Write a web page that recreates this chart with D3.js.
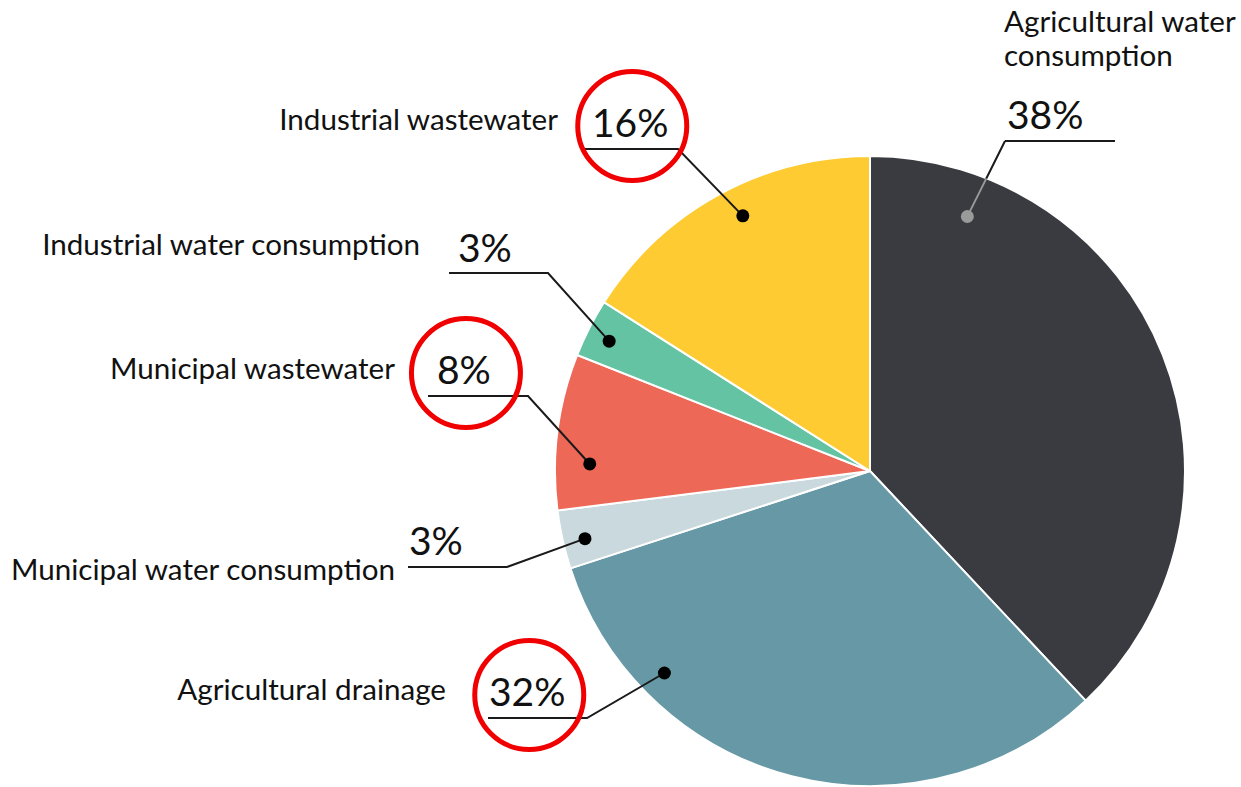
<!DOCTYPE html>
<html>
<head>
<meta charset="utf-8">
<script src="https://cdn.jsdelivr.net/npm/d3@7"></script>
<style>
    body { margin: 0; background: #fff; }
    text { font-family: Lato, "Noto Sans", sans-serif; fill: #111; }
</style>
</head>
<body>
<svg id="chart" width="1241" height="787"></svg>
<script>
// Data, clockwise from 12 o'clock
const categories = [
    "Agricultural water consumption",
    "Agricultural drainage",
    "Municipal water consumption",
    "Municipal wastewater",
    "Industrial water consumption",
    "Industrial wastewater"
];
const shares = [38, 32, 3, 8, 3, 16];
const percentLabels = ["38%", "32%", "3%", "8%", "3%", "16%"];
const highlighted = ["Agricultural drainage", "Municipal wastewater", "Industrial wastewater"];

const colors = ["#3a3b40", "#6699a5", "#c9d9dd", "#ee6858", "#64c3a3", "#ffcb32"];

// Label layout (name position, percent position, underline, dot placement inside slice)
const layout = [
    { nx: 1004, ny: 32, anchor: "start", lines: ["Agricultural water", "consumption"],
      px: 1007, py: 129, ux0: 1005, ux1: 1115, uy: 141, from: "left", frac: 0.153, rf: 0.865 },
    { nx: 446, ny: 700, anchor: "end",
      px: 489, py: 706, ux0: 488, ux1: 587, uy: 718, from: "right", frac: 0.77, rf: 0.915 },
    { nx: 395, ny: 580, anchor: "end",
      px: 409, py: 555, ux0: 408, ux1: 507, uy: 567, from: "right", frac: 0.43, rf: 0.93 },
    { nx: 395, ny: 379, anchor: "end",
      px: 437, py: 384, ux0: 428, ux1: 528, uy: 396, from: "right", frac: 0.3, rf: 0.89 },
    { nx: 420, ny: 255, anchor: "end",
      px: 458, py: 262, ux0: 449, ux1: 548, uy: 273, from: "right", frac: 0.45, rf: 0.925 },
    { nx: 558, ny: 130, anchor: "end",
      px: 592, py: 137, ux0: 583, ux1: 678, uy: 149, from: "right", frac: 0.54, rf: 0.905 }
];

const cx = 870, cy = 471, radius = 315;

const svg = d3.select("#chart");
const g = svg.append("g").attr("transform", `translate(${cx}, ${cy})`);

const pie = d3.pie().sort(null).value((d) => d);
const arcs = pie(shares);
const arc = d3.arc().innerRadius(0).outerRadius(radius);

// Slices
g.selectAll("path.slice")
    .data(arcs)
    .enter()
    .append("path")
    .attr("class", "slice")
    .attr("d", arc)
    .style("fill", (d, i) => colors[i])
    .style("stroke", "#fff")
    .style("stroke-width", 2);

// clip for the part of leaders inside the pie
svg.append("clipPath")
    .attr("id", "pieClip")
    .append("circle")
    .attr("cx", cx)
    .attr("cy", cy)
    .attr("r", radius);

const labels = svg.append("g");

arcs.forEach((a, i) => {
    const L = layout[i];
    const ang = a.startAngle + L.frac * (a.endAngle - a.startAngle);
    const p = d3.pointRadial(ang, L.rf * radius);
    const dx = cx + p[0], dy = cy + p[1];
    const sx = L.from === "left" ? L.ux0 : L.ux1;
    const onDark = i === 0;

    // category name
    const name = labels.append("text")
        .attr("x", L.nx)
        .attr("y", L.ny)
        .attr("text-anchor", L.anchor)
        .style("font-size", "29.6px");
    (L.lines || [categories[i]]).forEach((t, k) => {
        name.append("tspan").attr("x", L.nx).attr("dy", k === 0 ? 0 : 34).text(t);
    });

    // percentage
    const pct = labels.append("text")
        .attr("x", L.px)
        .attr("y", L.py)
        .style("font-size", "39px")
        .style("font-weight", 400)
        .text(percentLabels[i]);

    // underline + leader
    labels.append("path")
        .attr("d", `M${L.ux0},${L.uy}H${L.ux1}` + (L.from === "left"
            ? `M${L.ux0},${L.uy}L${dx},${dy}` : `L${dx},${dy}`))
        .style("fill", "none")
        .style("stroke", "#1a1a1a")
        .style("stroke-width", 2);

    if (onDark) {
        labels.append("line")
            .attr("x1", sx).attr("y1", L.uy)
            .attr("x2", dx).attr("y2", dy)
            .attr("clip-path", "url(#pieClip)")
            .style("stroke", "#9a9a9a")
            .style("stroke-width", 2);
    }

    labels.append("circle")
        .attr("cx", dx)
        .attr("cy", dy)
        .attr("r", 6.5)
        .style("fill", onDark ? "#9a9a9a" : "#000");

    // red rings round the highlighted shares
    if (highlighted.includes(categories[i])) {
        const bb = pct.node().getBBox();
        labels.append("circle")
            .attr("cx", bb.x + bb.width / 2 + 2)
            .attr("cy", L.uy - 23)
            .attr("r", 54.5)
            .style("fill", "none")
            .style("stroke", "#f00000")
            .style("stroke-width", 5);
    }
});
</script>
</body>
</html>
